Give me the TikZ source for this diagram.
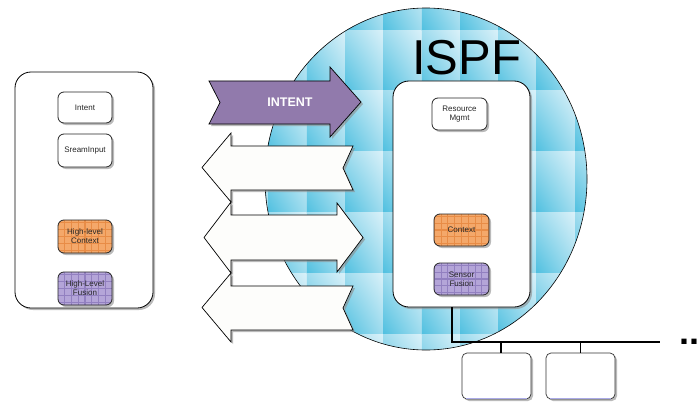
\documentclass[tikz,border=0pt]{standalone}
\usepackage{fontspec}
\setmainfont{Liberation Sans}
\usetikzlibrary{shadows,shapes.geometric,shadings}
\definecolor{tA}{RGB}{80,192,224}
\definecolor{tB}{RGB}{160,220,238}
\definecolor{tC}{RGB}{218,241,249}
\definecolor{intentP}{RGB}{145,122,172}
\definecolor{orangeL}{RGB}{244,168,106}
\definecolor{orangeD}{RGB}{232,140,70}
\definecolor{purpleL}{RGB}{180,165,216}
\definecolor{purpleD}{RGB}{146,128,192}
\definecolor{lav}{RGB}{170,170,230}
\definecolor{arrowW}{RGB}{253,253,251}
\tikzset{
  shad/.style={drop shadow={shadow xshift=2pt, shadow yshift=-2pt, fill=black!45, opacity=0.6}},
  panel/.style={draw=black, line width=0.8pt, fill=white, rounded corners=16pt, shad, inner sep=0pt},
  smallbox/.style={draw=black!85, line width=0.8pt, fill=white, rounded corners=6pt, shad,
    inner sep=0pt, minimum width=55pt, minimum height=32pt, align=center,
    font=\fontsize{8}{9}\selectfont, text=black!85},
  tiled/.style 2 args={smallbox, fill=#1,
    path picture={
      \foreach \k in {-6,...,6}{\draw[#2, line width=1.1pt] ([xshift=\k*6.8pt]path picture bounding box.north) -- ([xshift=\k*6.8pt]path picture bounding box.south);}
      \foreach \k in {-3,...,3}{\draw[#2, line width=1.1pt] ([yshift=\k*6.8pt]path picture bounding box.west) -- ([yshift=\k*6.8pt]path picture bounding box.east);}
    }},
  blockarrow/.style={draw=black, line width=0.7pt, fill=arrowW, shad, line join=miter},
  netline/.style={draw=black, line width=1.6pt},
  devbox/.style={draw=black!80, line width=0.7pt, fill=white, rounded corners=5pt, shad,
    minimum width=69pt, minimum height=46pt, inner sep=0pt}
}
\begin{document}
\begin{tikzpicture}[x=1pt,y=-1pt]
\useasboundingbox (0,0) rectangle (700,401);

% ISPF sphere with blue tiles
\coordinate (ispfc) at (426,179);
\begin{scope}
  \clip (ispfc) ellipse [x radius=161, y radius=171];
  \foreach \i in {0,...,9}{
    \foreach \j in {0,...,6}{
      \pgfmathsetmacro\xa{230.3+38.3*\i}
      \pgfmathsetmacro\ya{-30.6+60.8*\j}
      \shade[lower left=tA, lower right=tB, upper left=tB, upper right=tC]
        (\xa,\ya) rectangle ++(38.3,60.8);
    }
  }
\end{scope}
\node[ellipse, draw=black, line width=0.6pt, minimum width=322pt, minimum height=342pt, inner sep=0pt] (ispf) at (ispfc) {};

% left panel
\node[panel, minimum width=138pt, minimum height=236pt] (lp) at (84,190) {};
\node[smallbox, minimum width=54pt, minimum height=31pt] (intent) at (85,107.5) {Intent};
\node[smallbox, minimum width=54pt, minimum height=33pt] (stream) at (85,150.5) {SreamInput};
\node[tiled={orangeL}{orangeD}, minimum width=54pt, minimum height=33pt] (hlc) at (85,236.5) {High-level\\Context};
\node[tiled={purpleL}{purpleD}, minimum width=54pt, minimum height=33pt] (hlf) at (85,288.5) {High-Level\\Fusion};

% block arrows
\draw[blockarrow, fill=intentP] (209,81) -- (330,81) -- (330,67) -- (361,102) -- (330,137) -- (330,124) -- (209,124) -- (220,102.5) -- cycle;
\node[text=white, font=\bfseries\fontsize{12.5}{13}\selectfont] (intentlbl) at (290,102) {INTENT};
\draw[blockarrow] (202,167.5) -- (231,133) -- (231,146) -- (353,146) -- (343,168) -- (353,190) -- (231,190) -- (231,202) -- cycle;
\draw[blockarrow] (204,237.5) -- (231,202) -- (231,215) -- (337,215) -- (337,203) -- (363,237.5) -- (337,272) -- (337,260) -- (231,260) -- (231,273) -- cycle;
\draw[blockarrow] (202,307.5) -- (231,273) -- (231,286) -- (353,286) -- (343,308) -- (353,330) -- (231,330) -- (231,342) -- cycle;

% right panel
\node[panel, minimum width=137pt, minimum height=226pt] (rp) at (461.5,194) {};
\node[font=\fontsize{49}{49}\selectfont, anchor=base, inner sep=0pt] (title) at (466.5,75) {ISPF};
\node[smallbox] (res) at (459.5,114) {Resource\\Mgmt};
\node[tiled={orangeL}{orangeD}] (ctx) at (461.5,230) {Context};
\node[tiled={purpleL}{purpleD}] (sf) at (461.5,279) {Sensor\\Fusion};

% network
\coordinate (bus) at (452,342);
\coordinate (busend) at (660,342);
\node[devbox] (d1) at (496.5,376) {};
\node[devbox] (d2) at (580.5,376) {};
\draw[lav, line width=1.5pt] ([xshift=4pt,yshift=1pt]d1.south west) -- ([xshift=-4pt,yshift=1pt]d1.south east);
\draw[lav, line width=1.5pt] ([xshift=4pt,yshift=1pt]d2.south west) -- ([xshift=-4pt,yshift=1pt]d2.south east);
\draw[netline] (rp.south -| bus) -- (bus) -- (busend);
\draw[netline] ([xshift=4.5pt]d1.north) -- ([xshift=4.5pt]d1.north |- bus);
\draw[netline] (d2.north) -- (d2.north |- bus);
\node[font=\bfseries\fontsize{36}{36}\selectfont, anchor=base west, inner sep=0pt] (more) at (679.5,344.5) {..};
\end{tikzpicture}
\end{document}
